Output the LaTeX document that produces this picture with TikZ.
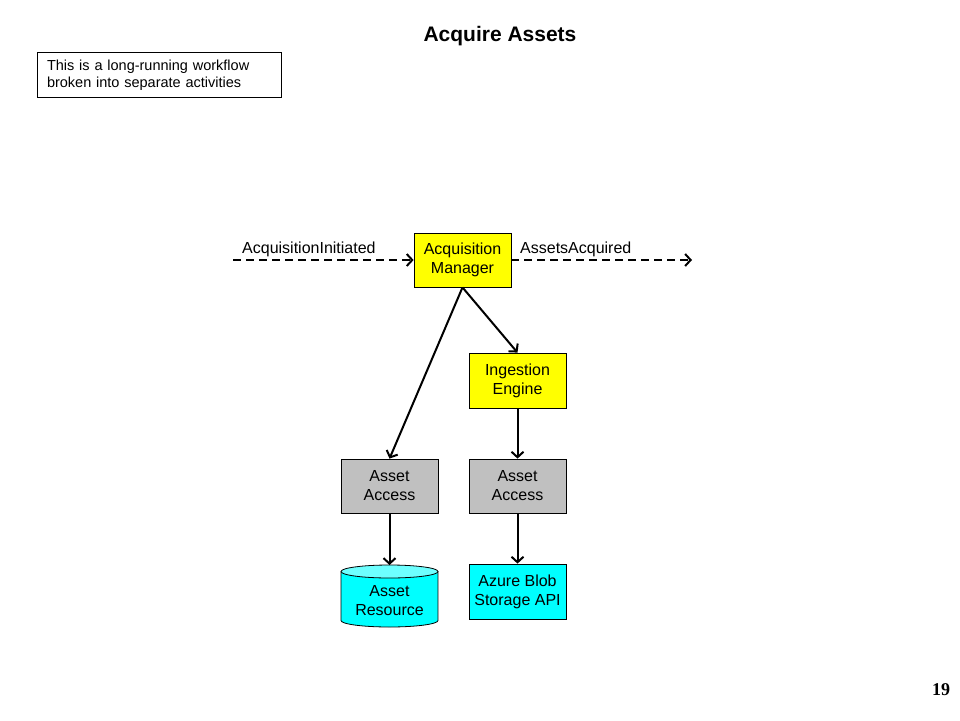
\documentclass[tikz,border=0pt]{standalone}
\usepackage{fontspec}
\setmainfont{Liberation Sans}
\newfontfamily\serifnum{Liberation Serif}
\usetikzlibrary{arrows.meta}
\definecolor{boxyellow}{RGB}{255,255,0}
\definecolor{boxgray}{RGB}{192,192,192}
\definecolor{boxcyan}{RGB}{0,255,255}
\definecolor{cyltop}{RGB}{110,255,255}
\begin{document}
\begin{tikzpicture}[x=1pt,y=1pt,
  comp/.style={draw=black, line width=0.8pt, minimum width=97pt, minimum height=54pt, inner sep=0pt, align=center, font=\fontsize{16}{19}\selectfont},
  mgr/.style={comp, fill=boxyellow},
  acc/.style={comp, fill=boxgray},
  ext/.style={comp, fill=boxcyan},
  lbl/.style={font=\fontsize{16}{19}\selectfont, inner sep=0pt, anchor=west},
  flow/.style={line width=2pt, -{Straight Barb[length=5.5pt,width=12pt,line width=2pt]}},
  evt/.style={flow, dash pattern=on 8pt off 5pt}
]
\useasboundingbox (0,0) rectangle (960,-720);
\fill[white] (0,0) rectangle (960,-720);

\node[font=\fontsize{21}{24}\selectfont\bfseries] (title) at (500,-36.5) {Acquire Assets};
\node[draw=black, line width=0.8pt, minimum width=244pt, minimum height=45pt, inner xsep=10pt, inner ysep=0pt, align=left, text width=224pt, font=\fontsize{14.5}{17}\selectfont] (note) at (159,-75) {This is a long-running workflow\\broken into separate activities};

\node[mgr] (am) at (462.5,-260) {Acquisition\\Manager};
\node[mgr, minimum height=55pt] (ie) at (517.5,-380.5) {Ingestion\\Engine};
\node[acc] (aa1) at (389.5,-486) {Asset\\Access};
\node[acc] (aa2) at (517.5,-486) {Asset\\Access};
\node[ext, minimum height=55pt] (az) at (517.5,-591.5) {Azure Blob\\Storage API};

% cylinder
\fill[boxcyan] (341,-571.5) rectangle (438,-620.5);
\fill[boxcyan] (389.5,-620.5) ellipse [x radius=48.5, y radius=6.5];
\draw[line width=0.8pt] (341,-571.5) -- (341,-620.5) arc[start angle=180, end angle=360, x radius=48.5, y radius=6.5] -- (438,-571.5);
\draw[line width=0.8pt, fill=cyltop] (389.5,-571.5) ellipse [x radius=48.5, y radius=6.5];
\node[minimum width=97pt, minimum height=44pt, inner sep=0pt, align=center, font=\fontsize{16}{19}\selectfont] (ar) at (389.5,-601) {Asset\\Resource};
\coordinate (arTop) at (389.5,-565);

\coordinate (inStart) at (233,-260);
\coordinate (outEnd) at (692,-260);
\draw[evt] (inStart) -- (am.west);
\draw[evt] (am.east) -- (outEnd);
\node[lbl] (lin) at (242,-249.5) {AcquisitionInitiated};
\node[lbl] (lout) at (520,-249.5) {AssetsAcquired};

\draw[flow] (am.south) -- (aa1.north);
\draw[flow] (am.south) -- (ie.north);
\draw[flow] (ie.south) -- (aa2.north);
\draw[flow] (aa1.south) -- (arTop);
\draw[flow] (aa2.south) -- (az.north);

\node[font=\fontsize{18}{20}\serifnum\bfseries] (pg) at (941,-690) {19};
\end{tikzpicture}
\end{document}
